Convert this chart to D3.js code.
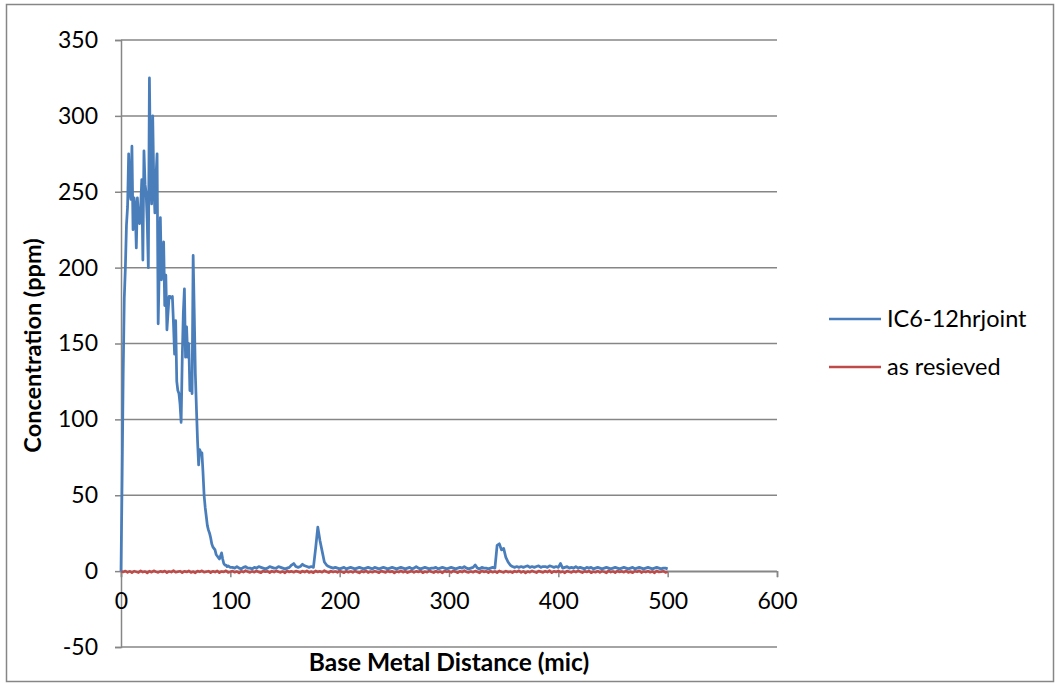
<!DOCTYPE html>
<html>
<head>
<meta charset="utf-8">
<script src="https://cdn.jsdelivr.net/npm/d3@7"></script>
<style>
  html, body { margin: 0; padding: 0; background: #fff; }
  svg { display: block; }
  text { font-family: Lato, "Open Sans", sans-serif; fill: #000; }
</style>
</head>
<body>
<svg id="chart" width="1055" height="683"></svg>
<script>
// ---------- data ----------
const xTicks = [0, 100, 200, 300, 400, 500, 600];
const yTicks = [-50, 0, 50, 100, 150, 200, 250, 300, 350];
const seriesNames = ["IC6-12hrjoint", "as resieved"];

// IC6-12hrjoint : distances 0..100 step 1
const blueNearX = d3.range(0, 101, 1);
const blueNearY = [
  0, 60, 130, 180, 200, 228, 240, 275, 250, 245,
  280, 225, 246, 240, 213, 246, 232, 229, 240, 258,
  205, 277, 255, 249, 230, 200, 325, 260, 242, 300,
  255, 236, 260, 275, 163, 200, 233, 192, 205, 217,
  175, 195, 159, 170, 181, 181, 180, 181, 163, 143,
  165, 125, 119, 117, 110, 98, 140, 170, 186, 141,
  161, 141, 150, 119, 125, 117, 208, 170, 130, 107,
  86, 70, 80, 78, 78, 65, 50, 42, 36, 30,
  27, 25, 22, 18, 16, 15, 14, 11, 10, 9,
  8, 10, 12, 8, 5, 4, 4, 3, 3.5, 3,
  2.5
];
// IC6-12hrjoint : distances 102..500 step 2
const blueFarX = d3.range(102, 501, 2);
const blueFarY = [
  2.5, 2, 3, 2, 1.5, 2.5, 3, 2, 2, 1.5,
  2.5, 2, 3, 2.5, 2, 1.5, 2, 3, 2.5, 2,
  2, 3, 2.5, 2, 1.5, 2, 2.5, 4, 5, 3,
  2.5, 3, 4.5, 3.5, 3, 2.5, 3, 2.5, 15, 29,
  20, 13, 6, 4, 3, 2.5, 2, 2.5, 2, 1.5,
  2, 2.5, 1.5, 2, 2.5, 2, 1.5, 2, 2.5, 2,
  1.5, 2, 2.5, 2, 1.5, 2.5, 2, 1.5, 2, 2.5,
  2, 1.5, 2, 2.5, 2, 1.5, 2, 2.5, 2, 1.5,
  2, 2.5, 1.5, 2, 3, 2, 1.5, 2, 2.5, 2,
  1.5, 2, 2, 2.5, 1.5, 2, 2.5, 2, 1.5, 2,
  2.5, 2, 1.5, 2, 2.5, 2, 3, 2, 1.5, 2,
  2.5, 4, 2, 1.5, 2.5, 2, 2, 1.5, 2, 2.5,
  2, 17, 18, 14, 15, 9, 6, 4, 3, 2.5,
  3, 2.5, 3, 2.5, 3, 3.5, 2.5, 3, 2.5, 3,
  3.5, 2.5, 3, 3, 2.5, 3.5, 3, 2.5, 3, 2.5,
  5, 2, 2.5, 3, 2, 2.5, 2, 3, 2, 2.5,
  2, 1.5, 2.5, 2, 2.5, 1.5, 2, 2.5, 2, 1.5,
  2, 2.5, 2, 1.5, 2, 2.5, 2, 1.5, 2, 2.5,
  2, 1.5, 2, 2.5, 1.5, 2, 2.5, 2, 1.5, 2,
  2.5, 2, 1.5, 2, 2.5, 2, 1.5, 2, 2, 1.5
];
// as resieved : distances 0..500 step 2
const redX = d3.range(0, 501, 2);
const redY = [
  0, -0.6, 0.1, -0.9, -0.1, -1.1, 0, -0.5, -1.0, 0.2,
  -0.7, -0.2, -1.2, 0, -0.8, 0.3, -0.5, -0.9, -0.1, -0.6,
  0.1, -1.0, -0.2, -0.7, 0.4, -0.8, -0.4, 0, -1.1, -0.1,
  -0.6, 0.2, -0.9, -0.3, -1.2, 0.1, -0.5, 0.3, -0.8, -0.4,
  0, -1.0, -0.1, -0.7, 0.2, -1.1, -0.2, -0.6, 0.3, -0.9,
  -0.5, 0.1, -0.8, -0.2, -1.2, 0, -0.7, 0.4, -0.4, -0.9,
  -0.1, -0.8, 0.2, -0.6, -1.1, 0.1, -0.4, -0.1, -1.0, 0,
  -0.7, 0.3, -0.5, -0.9, -0.2, -1.2, 0.2, -0.6, -0.1, -0.8,
  0.1, -0.4, -1.0, 0, -0.7, 0.3, -0.9, -0.3, -1.1, 0.2,
  -0.6, -0.1, -0.8, 0.4, -0.5, -1.0, 0, -0.7, -0.2, -0.9,
  0.2, -0.5, -1.1, 0, -0.8, -0.2, -0.9, 0.1, -0.6, -1.2,
  -0.1, -0.7, 0.3, -1.0, -0.3, -0.8, 0, -0.5, -1.1, 0.1,
  -0.4, -0.9, 0.2, -0.6, -0.1, -1.2, -0.2, -0.7, 0.3, -0.8,
  0, -1.0, -0.4, 0.1, -0.9, -0.1, -0.6, 0.2, -1.1, -0.3,
  -0.7, 0.3, -0.5, -1.0, 0, -0.8, -0.2, -1.2, 0.1, -0.5,
  -0.1, -0.9, 0.2, -0.4, -1.1, 0, -0.7, 0.4, -0.6, -0.9,
  -0.2, -0.8, 0.1, -0.5, -1.2, 0.3, -0.6, -0.1, -1.0, 0,
  -0.8, -0.2, -1.1, 0.2, -0.5, -0.9, 0.1, -0.7, -0.3, -1.0,
  0, -0.6, 0.3, -0.9, -0.1, -1.2, -0.2, -0.8, 0.2, -0.5,
  -1.0, 0.1, -0.4, -0.9, 0, -0.7, 0.4, -1.1, -0.1, -0.6,
  0.2, -0.8, -0.2, -1.2, 0.1, -0.5, -0.9, 0, -0.7, 0.3,
  -0.4, -1.0, -0.1, -0.6, 0.2, -1.1, -0.3, -0.8, 0.1, -0.9,
  0, -0.5, -1.2, 0.3, -0.7, -0.2, -1.0, 0.1, -0.6, -0.1,
  -0.8, 0.2, -0.9, -0.3, -1.1, 0, -0.5, 0.3, -1.0, -0.2,
  -0.7, 0.1, -0.8, -0.1, -1.2, 0.2, -0.6, -0.4, 0, -0.9,
  -0.5
];

// ---------- layout ----------
const svg = d3.select("#chart");
const plot = { left: 121, right: 777, top: 40, bottom: 647 };
const gridColor = "#868686";
const colors = ["#4a7ebb", "#be4b48"];

svg.append("rect").attr("x", 0).attr("y", 0).attr("width", 1055).attr("height", 683).attr("fill", "#fff");
svg.append("rect")
  .attr("x", 6.5).attr("y", 4.5).attr("width", 1047).attr("height", 677)
  .attr("fill", "none").attr("stroke", gridColor).attr("stroke-width", 1.5);

const x = d3.scaleLinear().domain([0, 600]).range([plot.left, plot.right]);
const y = d3.scaleLinear().domain([-50, 350]).range([plot.bottom, plot.top]);
const fmt = d => String(d);

// horizontal gridlines
svg.append("g").selectAll("line").data(yTicks).join("line")
  .attr("x1", plot.left).attr("x2", plot.right)
  .attr("y1", d => y(d)).attr("y2", d => y(d))
  .attr("stroke", gridColor).attr("stroke-width", 1.5);

// y axis
const yAxis = svg.append("g").attr("transform", `translate(${plot.left},0)`)
  .call(d3.axisLeft(y).tickValues(yTicks).tickSize(6).tickPadding(17).tickFormat(fmt));
yAxis.select(".domain").attr("stroke", gridColor).attr("stroke-width", 1.5);
yAxis.selectAll(".tick line").attr("stroke", gridColor).attr("stroke-width", 1.5);
yAxis.selectAll(".tick text").style("font-size", "23px").style("font-family", "Lato, sans-serif").attr("fill", "#000");

// x axis crossing at y = 0
const xAxis = svg.append("g").attr("transform", `translate(0,${y(0)})`)
  .call(d3.axisBottom(x).tickValues(xTicks).tickSize(6).tickPadding(16).tickFormat(fmt));
xAxis.select(".domain").attr("stroke", gridColor).attr("stroke-width", 1.5);
xAxis.selectAll(".tick line").attr("stroke", gridColor).attr("stroke-width", 1.5);
xAxis.selectAll(".tick text").style("font-size", "23px").style("font-family", "Lato, sans-serif").attr("fill", "#000");

// series
const line = d3.line().x(d => x(d[0])).y(d => y(d[1]));
const blue = blueNearX.map((d, i) => [d, blueNearY[i]]).concat(blueFarX.map((d, i) => [d, blueFarY[i]]));
const red = redX.map((d, i) => [d, redY[i]]);

svg.append("path").datum(red).attr("d", line)
  .attr("fill", "none").attr("stroke", colors[1]).attr("stroke-width", 2.5).attr("stroke-linejoin", "round");
svg.append("path").datum(blue).attr("d", line)
  .attr("fill", "none").attr("stroke", colors[0]).attr("stroke-width", 2.75).attr("stroke-linejoin", "round");

// axis titles
svg.append("text")
  .attr("transform", `translate(41,${(plot.top + plot.bottom) / 2 + 2}) rotate(-90)`)
  .attr("text-anchor", "middle")
  .style("font-size", "23.5px").style("font-weight", "bold")
  .text("Concentration (ppm)");
svg.append("text")
  .attr("x", 449).attr("y", 671)
  .attr("text-anchor", "middle")
  .style("font-size", "24.5px").style("font-weight", "bold")
  .text("Base Metal Distance (mic)");

// legend
const legend = svg.append("g");
seriesNames.forEach((name, i) => {
  const ly = 319 + i * 48;
  legend.append("line").attr("x1", 829).attr("x2", 881).attr("y1", ly).attr("y2", ly)
    .attr("stroke", colors[i]).attr("stroke-width", 2.5);
  legend.append("text").attr("x", 887).attr("y", ly + 8)
    .style("font-size", "23.5px").text(name);
});
</script>
</body>
</html>
